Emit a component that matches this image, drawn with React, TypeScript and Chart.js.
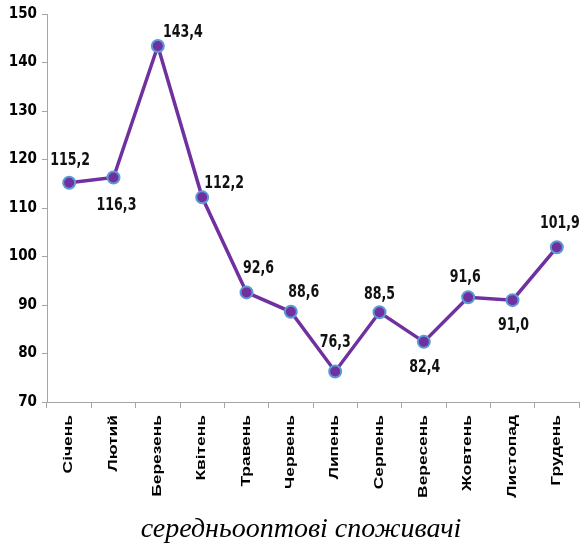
import React, { useEffect, useRef } from "react";
import { Chart, registerables } from "chart.js";

Chart.register(...registerables);

const categories = [
  "Січень", "Лютий", "Березень", "Квітень", "Травень", "Червень",
  "Липень", "Серпень", "Вересень", "Жовтень", "Листопад", "Грудень",
];
const values = [115.2, 116.3, 143.4, 112.2, 92.6, 88.6, 76.3, 88.5, 82.4, 91.6, 91.0, 101.9];
const yMin = 70;
const yMax = 150;
const yStep = 10;
const titleText = "середньооптові споживачі";
// label offsets relative to each point (px)
const labelOffsets: [number, number][] = [
  [1, -22], [3, 28], [25, -14], [22, -14], [12, -24], [13, -19],
  [0, -29], [0, -18], [1, 26], [-3, -20], [1, 25], [3, -24],
];

const NARROW = '"Liberation Sans Narrow", "DejaVu Sans Condensed", sans-serif';

const valueLabelPlugin = {
  id: "valueLabels",
  afterDatasetsDraw(chart: any) {
    const ctx = chart.ctx;
    const meta = chart.getDatasetMeta(0);
    ctx.save();
    ctx.font = `bold 14px ${NARROW}`;
    ctx.fillStyle = "#111";
    ctx.textAlign = "center";
    ctx.textBaseline = "middle";
    meta.data.forEach((pt: any, i: number) => {
      const [dx, dy] = labelOffsets[i];
      const txt = values[i].toFixed(1).replace(".", ",");
      ctx.save();
      ctx.translate(pt.x + dx, pt.y + dy);
      ctx.scale(1, 1.25);
      ctx.fillText(txt, 0, 0);
      ctx.restore();
    });
    ctx.restore();
  },
};

const xLabelPlugin = {
  id: "xLabels",
  afterDraw(chart: any) {
    const ctx = chart.ctx;
    const xs = chart.scales.x;
    const top = chart.chartArea.bottom + 13;
    ctx.save();
    ctx.font = 'bold 12px "Liberation Sans", Arial, sans-serif';
    ctx.fillStyle = "#000";
    ctx.textAlign = "right";
    ctx.textBaseline = "middle";
    categories.forEach((c, i) => {
      const x = xs.getPixelForValue(i);
      ctx.save();
      ctx.translate(x, top);
      ctx.rotate(-Math.PI / 2);
      ctx.scale(1.45, 1);
      ctx.fillText(c, 0, 0);
      ctx.restore();
    });
    // title below the axis labels
    ctx.font = 'italic 28px "Liberation Serif", "Times New Roman", serif';
    ctx.textAlign = "center";
    ctx.textBaseline = "middle";
    ctx.fillText(titleText, 301, 530);
    ctx.restore();
  },
};

export default function App() {
  const ref = useRef<HTMLCanvasElement | null>(null);
  useEffect(() => {
    if (!ref.current) return;
    const chart = new Chart(ref.current, {
      type: "line",
      data: {
        labels: categories,
        datasets: [
          {
            data: values,
            borderColor: "#7030a0",
            borderWidth: 3.5,
            tension: 0,
            pointRadius: 6,
            pointHoverRadius: 6,
            pointBorderWidth: 2,
            pointBorderColor: "#5b9bd5",
            pointBackgroundColor: "#7030a0",
            clip: false as any,
          },
        ],
      },
      options: {
        responsive: false,
        animation: false,
        layout: { padding: { top: 14, right: 1, left: 0, bottom: 0 } },
        plugins: {
          legend: { display: false },
          tooltip: { enabled: false },
          title: { display: false },
        },
        scales: {
          x: {
            type: "category",
            offset: true,
            grid: { offset: true, drawOnChartArea: false, drawTicks: true, tickLength: 6, color: "#a6a6a6" },
            border: { display: true, color: "#a6a6a6", width: 1 },
            ticks: { display: false },
            afterFit(scale: any) {
              scale.height = 148;
            },
          },
          y: {
            min: yMin,
            max: yMax,
            ticks: {
              stepSize: yStep,
              color: "#000",
              padding: 5,
              font: { family: NARROW, size: 15, weight: "bold" },
            },
            grid: { drawOnChartArea: false, drawTicks: true, tickLength: 5, color: "#a6a6a6" },
            border: { display: true, color: "#a6a6a6", width: 1 },
            afterFit(scale: any) {
              scale.width = 47;
            },
          },
        },
      },
      plugins: [valueLabelPlugin, xLabelPlugin],
    });
    return () => chart.destroy();
  }, []);
  return (
    <div style={{ position: "absolute", left: 0, top: 0, width: 587, height: 550, background: "#fff" }}>
      <canvas ref={ref} width={587} height={550} style={{ width: 587, height: 550, display: "block" }} />
    </div>
  );
}
